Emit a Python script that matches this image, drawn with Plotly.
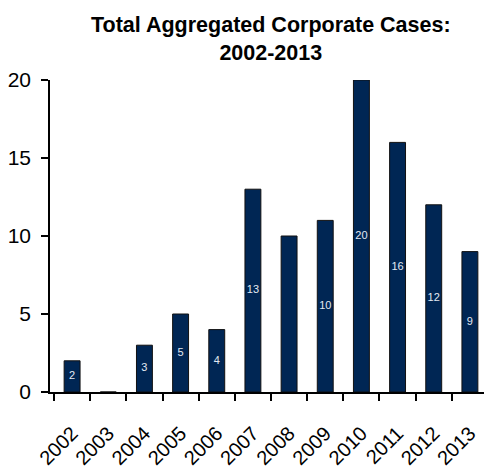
import plotly.graph_objects as go

years = ["2002", "2003", "2004", "2005", "2006", "2007", "2008", "2009", "2010", "2011", "2012", "2013"]
cases = [2, 0, 3, 5, 4, 13, 10, 11, 20, 16, 12, 9]
bar_labels = ["2", "", "3", "5", "4", "13", "", "10", "20", "16", "12", "9"]
y_ticks = [0, 5, 10, 15, 20]
title_text = "<b>Total Aggregated Corporate Cases:<br>2002-2013</b>"

FONT = "Liberation Sans, Arial, sans-serif"

fig = go.Figure()
fig.add_trace(
    go.Bar(
        x=years,
        y=cases,
        marker=dict(color="#002654", line=dict(color="#111111", width=1)),
        hoverinfo="x+y",
    )
)
# Value labels placed at the middle of each bar (half of the bar value).
fig.add_trace(
    go.Scatter(
        x=years,
        y=[v / 2 for v in cases],
        text=bar_labels,
        mode="text",
        textposition="middle center",
        textfont=dict(color="#e3e9f2", size=11, family=FONT),
        hoverinfo="skip",
        cliponaxis=False,
    )
)

# The page body adds an 8px offset; margins are reduced to compensate.
fig.update_layout(
    width=484,
    height=460,
    margin=dict(l=42, r=0, t=72, b=76),
    paper_bgcolor="white",
    plot_bgcolor="white",
    bargap=0.56,
    showlegend=False,
    font=dict(family=FONT, color="black"),
    annotations=[
        dict(
            text=title_text,
            xref="paper",
            yref="paper",
            x=0.5,
            y=1,
            xanchor="center",
            yanchor="bottom",
            yshift=14,
            showarrow=False,
            borderpad=0,
            font=dict(family=FONT, size=21.5, color="black"),
        )
    ],
)

fig.update_xaxes(
    type="category",
    tickson="boundaries",
    ticks="outside",
    ticklen=7,
    tickwidth=1.5,
    tickcolor="black",
    showline=True,
    linecolor="black",
    linewidth=1.5,
    showgrid=False,
    tickangle=-45,
    automargin=False,
    ticklabelstandoff=20,
    tickfont=dict(family=FONT, size=20, color="black"),
)

fig.update_yaxes(
    range=[0, 20],
    tickvals=y_ticks,
    ticks="outside",
    ticklen=7,
    tickwidth=1.5,
    tickcolor="black",
    showline=True,
    linecolor="black",
    linewidth=1.5,
    showgrid=False,
    zeroline=False,
    automargin=False,
    ticklabelstandoff=6,
    tickfont=dict(family=FONT, size=21, color="black"),
)

fig.write_html("out.html")
